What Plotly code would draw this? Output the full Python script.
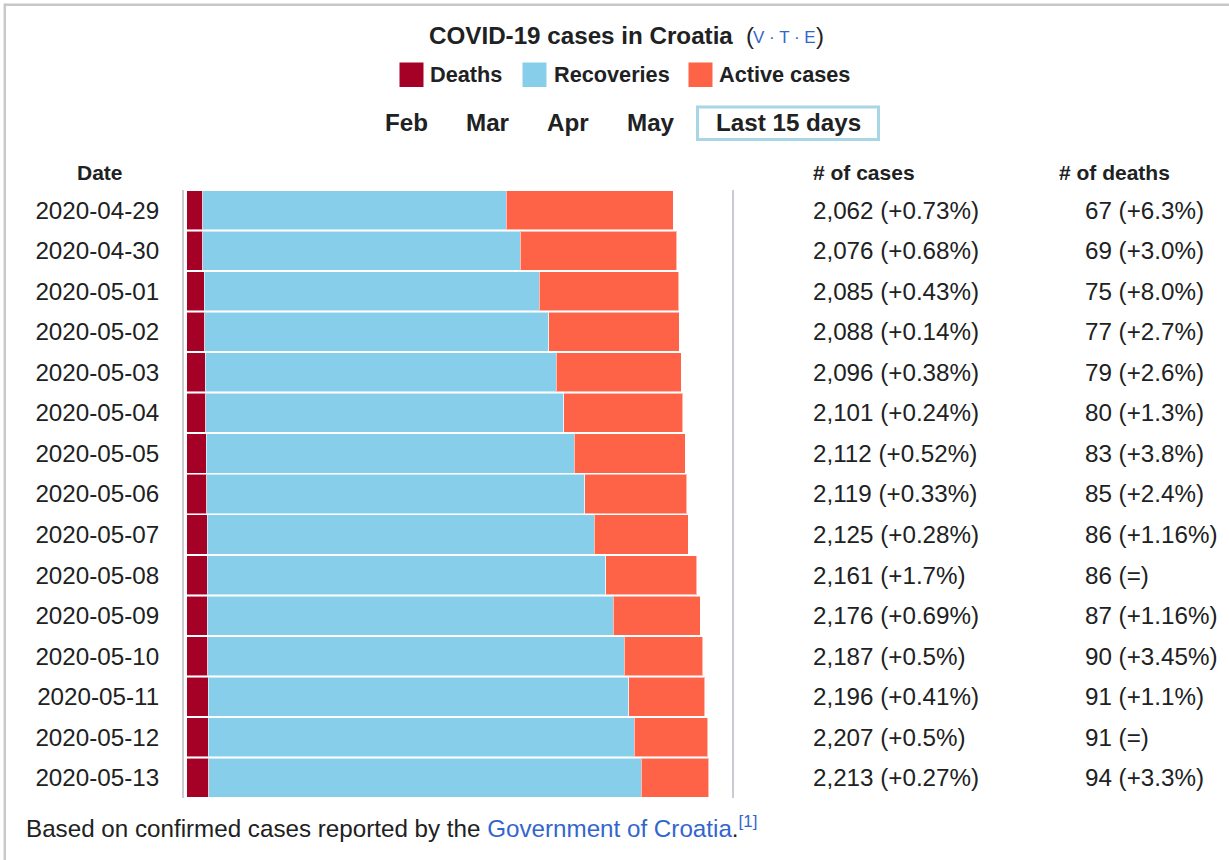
import plotly.graph_objects as go

W, H = 1229, 860

dates = ["2020-04-29", "2020-04-30", "2020-05-01", "2020-05-02", "2020-05-03",
         "2020-05-04", "2020-05-05", "2020-05-06", "2020-05-07", "2020-05-08",
         "2020-05-09", "2020-05-10", "2020-05-11", "2020-05-12", "2020-05-13"]
cases = [2062, 2076, 2085, 2088, 2096, 2101, 2112, 2119, 2125, 2161, 2176, 2187, 2196, 2207, 2213]
deaths = [67, 69, 75, 77, 79, 80, 83, 85, 86, 86, 87, 90, 91, 91, 94]
recoveries = [1286, 1345, 1418, 1458, 1486, 1517, 1559, 1602, 1640, 1689, 1721, 1763, 1783, 1806, 1831]
active = [709, 662, 592, 553, 531, 504, 470, 432, 399, 386, 368, 334, 322, 310, 288]
cases_change = ["+0.73%", "+0.68%", "+0.43%", "+0.14%", "+0.38%", "+0.24%", "+0.52%", "+0.33%",
                "+0.28%", "+1.7%", "+0.69%", "+0.5%", "+0.41%", "+0.5%", "+0.27%"]
deaths_change = ["+6.3%", "+3.0%", "+8.0%", "+2.7%", "+2.6%", "+1.3%", "+3.8%", "+2.4%",
                 "+1.16%", "=", "+1.16%", "+3.45%", "+1.1%", "=", "+3.3%"]

series_names = ["Deaths", "Recoveries", "Active cases"]
series_colors = ["#A50026", "#87CEEB", "#FF6347"]
month_buttons = ["Feb", "Mar", "Apr", "May", "Last 15 days"]
col_headers = ["Date", "# of cases", "# of deaths"]

FONT = "Liberation Sans, Arial, Helvetica, sans-serif"
TXT = "#202122"
LINK = "#3366cc"
FS = 24.2


def px(x):
    return x / W


def py(y):
    return 1 - y / H


fig = go.Figure()
for name, vals, col in zip(series_names, [deaths, recoveries, active], series_colors):
    fig.add_trace(go.Bar(
        y=dates, x=vals, name=name, orientation="h",
        marker=dict(color=col, line=dict(color="rgba(255,255,255,0.55)", width=1)),
        showlegend=False, hoverinfo="x+y+name",
    ))


def label(text, x, y, size, anchor="left", yref="paper"):
    return dict(text=text, x=px(x), y=(py(y) if yref == "paper" else y), xref="paper", yref=yref,
                xanchor=anchor, yanchor="middle", showarrow=False,
                font=dict(size=size, color=TXT, family=FONT))


ann = []
# title
ann.append(label("<b>COVID-19 cases in Croatia</b>", 426.5, 36, 24.2))
ann.append(label("(", 743.5, 36, 24))
ann.append(dict(text="V · T · E", x=px(751), y=py(37.5), xref="paper", yref="paper", xanchor="left",
                yanchor="middle", showarrow=False, font=dict(size=17, color=LINK, family=FONT)))
ann.append(label(")", 813.5, 36, 24))
# legend
leg_sq = [399.5, 522.5, 688.5]
leg_tx = [428, 551.5, 717]
shapes = []
for name, col, sx, tx in zip(series_names, series_colors, leg_sq, leg_tx):
    shapes.append(dict(type="rect", xref="paper", yref="paper", x0=px(sx), x1=px(sx + 24),
                       y0=py(62.5), y1=py(87), fillcolor=col, line=dict(width=0)))
    ann.append(label("<b>%s</b>" % name, tx, 74, 21.7))
# month buttons
btn_x = [383, 464, 544.5, 624.5, 714]
for lab, bx in zip(month_buttons, btn_x):
    ann.append(label("<b>%s</b>" % lab, bx, 123, 24.2))
shapes.append(dict(type="rect", xref="paper", yref="paper", x0=px(697.5), x1=px(878.5),
                   y0=py(107), y1=py(139.5), line=dict(color="#a9d6e5", width=3), fillcolor="rgba(0,0,0,0)"))
# column headers
ann.append(label("<b>%s</b>" % col_headers[0], 99.5, 172.5, 21, anchor="center"))
ann.append(label("<b>%s</b>" % col_headers[1], 811, 172.5, 21))
ann.append(label("<b>%s</b>" % col_headers[2], 1057, 172.5, 21))
# data columns
for d, c, cc, dd, dc in zip(dates, cases, cases_change, deaths, deaths_change):
    ann.append(label("{:,} ({})".format(c, cc), 811, d, FS, yref="y"))
    ann.append(label("{} ({})".format(dd, dc), 1083, d, FS, yref="y"))
# footer
ann.append(label("Based on confirmed cases reported by the <span style='color:%s'>Government of Croatia</span>."
                 "<sup><span style='color:%s'>[1]</span></sup>" % (LINK, LINK), 24, 826.5, 24.2))

# outer border (top and left)
shapes.append(dict(type="line", xref="paper", yref="paper", x0=px(4.8), x1=px(1240), y0=py(4.8), y1=py(4.8),
                   line=dict(color="#c8c8c8", width=2.5)))
shapes.append(dict(type="line", xref="paper", yref="paper", x0=px(4.8), x1=px(4.8), y0=py(3.6), y1=py(870),
                   line=dict(color="#c8c8c8", width=2.5)))

dom_l, dom_r = 183.7, 731.7
scale = 0.236
x0 = -(186.7 - dom_l) / scale
x1 = x0 + (dom_r - dom_l) / scale

fig.update_layout(
    width=W, height=H, margin=dict(l=0, r=0, t=0, b=0),
    paper_bgcolor="white", plot_bgcolor="white",
    barmode="stack", bargap=0.035,
    font=dict(family=FONT, color=TXT, size=FS),
    xaxis=dict(domain=[px(dom_l), px(dom_r)], range=[x0, x1], visible=False, fixedrange=True),
    yaxis=dict(type="category", domain=[py(798), py(190)], categoryorder="array", categoryarray=dates,
               autorange="reversed", showgrid=False, zeroline=False, showline=True, mirror=True,
               linecolor="#c8ccd1", linewidth=1.5, ticks="", ticklabelstandoff=18,
               tickfont=dict(size=FS, color=TXT, family=FONT), fixedrange=True),
    annotations=ann, shapes=shapes,
)

fig.write_html("out.html", config={"displayModeBar": False},
               post_script="document.body.style.margin='0';document.body.style.overflow='hidden';")
